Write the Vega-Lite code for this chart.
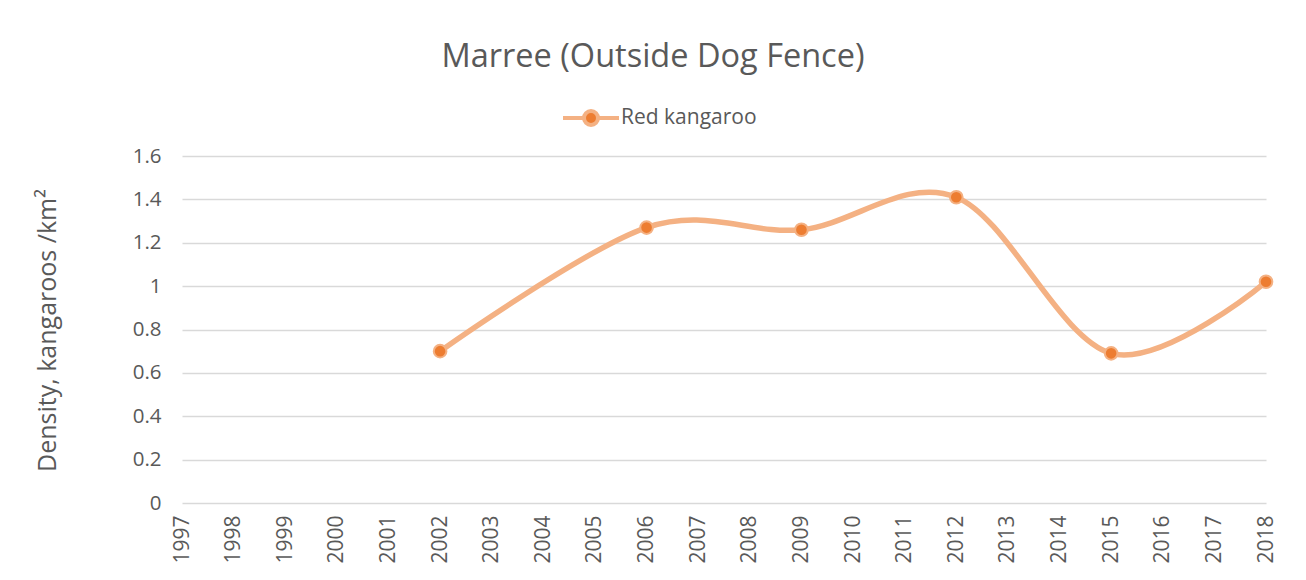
{
  "$schema": "https://vega.github.io/schema/vega-lite/v6.json",
  "autosize": {"type": "none"},
  "width": 1084,
  "height": 347,
  "padding": {"left": 182, "top": 156, "right": 40, "bottom": 77},
  "background": "white",
  "title": {
    "text": "Marree (Outside Dog Fence)",
    "fontSize": 32.5,
    "font": "Open Sans",
    "fontWeight": "normal",
    "color": "#595959",
    "offset": 15,
    "dx": -71
  },
  "data": {
    "values": [
      {"year": 2002, "density": 0.70, "series": "Red kangaroo"},
      {"year": 2006, "density": 1.27, "series": "Red kangaroo"},
      {"year": 2009, "density": 1.26, "series": "Red kangaroo"},
      {"year": 2012, "density": 1.41, "series": "Red kangaroo"},
      {"year": 2015, "density": 0.69, "series": "Red kangaroo"},
      {"year": 2018, "density": 1.02, "series": "Red kangaroo"}
    ]
  },
  "encoding": {
    "x": {
      "field": "year",
      "type": "ordinal",
      "scale": {"type": "point", "padding": 0, "domain": [1997,1998,1999,2000,2001,2002,2003,2004,2005,2006,2007,2008,2009,2010,2011,2012,2013,2014,2015,2016,2017,2018]},
      "axis": {
        "title": null,
        "labelAngle": -90,
        "labelPadding": 12,
        "labelFontSize": 21,
        "labelFont": "Open Sans",
        "labelColor": "#595959",
        "domain": false,
        "ticks": false,
        "grid": false
      }
    },
    "y": {
      "field": "density",
      "type": "quantitative",
      "scale": {"domain": [0, 1.6], "nice": false, "zero": true},
      "axis": {
        "values": [0, 0.2, 0.4, 0.6, 0.8, 1, 1.2, 1.4, 1.6],
        "format": "~g",
        "title": "Density, kangaroos /km²",
        "titleFont": "Open Sans",
        "titleFontSize": 25,
        "titleFontWeight": "normal",
        "titleColor": "#595959",
        "titleAngle": -90,
        "titleX": -135,
        "titleY": 174,
        "titleAlign": "center",
        "titleBaseline": "middle",
        "labelFontSize": 20.5,
        "labelFont": "Open Sans",
        "labelColor": "#595959",
        "labelPadding": 21,
        "domain": false,
        "ticks": false,
        "grid": true,
        "gridColor": "#D9D9D9",
        "gridWidth": 1.5
      }
    }
  },
  "layer": [
    {
      "mark": {"type": "line", "interpolate": "cardinal", "tension": 0, "strokeWidth": 5.5, "strokeCap": "round"},
      "encoding": {
        "color": {
          "field": "series",
          "type": "nominal",
          "scale": {"domain": ["Red kangaroo"], "range": ["#F4B183"]},
          "legend": {
            "title": null,
            "orient": "none",
            "legendX": 379,
            "legendY": -68,
            "symbolType": "M-1,0H-0.25M0.25,0H1M-0.25,0A0.25,0.25 0 1,0 0.25,0A0.25,0.25 0 1,0 -0.25,0Z",
            "symbolSize": 3136,
            "symbolFillColor": "#ED7D31",
            "symbolStrokeColor": "#F4B183",
            "symbolStrokeWidth": 4,
            "labelFont": "Open Sans",
            "labelFontSize": 21,
            "labelColor": "#595959",
            "labelOffset": 0
          }
        }
      }
    },
    {
      "mark": {"type": "point", "filled": true, "fill": "#ED7D31", "stroke": "#F4B183", "strokeWidth": 2, "size": 160, "opacity": 1, "shape": "circle"},
      "encoding": {}
    }
  ],
  "config": {"view": {"stroke": null}}
}
